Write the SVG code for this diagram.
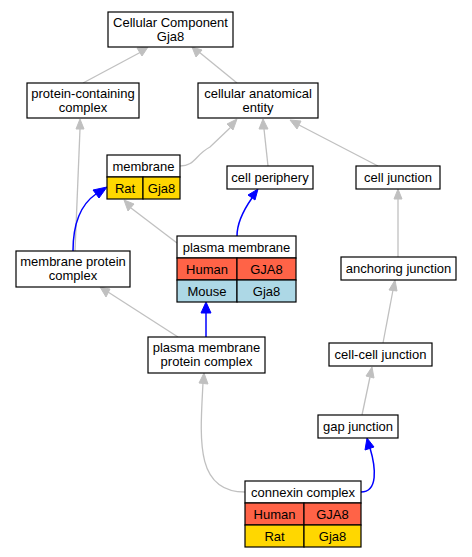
<svg xmlns="http://www.w3.org/2000/svg" width="472" height="557" viewBox="0 0 472 557">
<style>
.box{fill:#fff;stroke:#000;stroke-width:1.2}
.cell{stroke:#000;stroke-width:1.2}
.h{fill:#ff6347}.r{fill:#ffd700}.m{fill:#add8e6}
text{font-family:"Liberation Sans",Arial,sans-serif;font-size:13px;text-anchor:middle;fill:#000}
.g{fill:none;stroke:#c0c0c0;stroke-width:1.3}
.b{fill:none;stroke:#0000ff;stroke-width:1.5}
.ga{fill:#c0c0c0;stroke:#c0c0c0}
.ba{fill:#0000ff;stroke:#0000ff}
</style>
<rect width="472" height="557" fill="#fff"/>
<g id="edges">
<path class="g" d="M83,83 L141,52"/><polygon class="ga" points="148,47 137,48 142,56"/>
<path class="g" d="M237,83 L199,52"/><polygon class="ga" points="192,47 196,57 202,50"/>
<path class="g" d="M180,166 C195,166 195,155 210,147 L231,127"/><polygon class="ga" points="237,119 227,124 233,130"/>
<path class="g" d="M268,166 L264,129"/><polygon class="ga" points="263,119 259,129 268,129"/>
<path class="g" d="M378,166 L299,125"/><polygon class="ga" points="290,120 297,129 301,121"/>
<path class="g" d="M75,251 L80,129"/><polygon class="ga" points="80,119 76,129 84,129"/>
<path class="b" d="M73,251 C73,225 80,205 96,194"/><polygon class="ba" points="107,187 93,190 99,198"/>
<path class="g" d="M177,243 L131,208"/><polygon class="ga" points="124,200 128,211 134,204"/>
<path class="b" d="M237,236 C237,222 245,208 252,198"/><polygon class="ba" points="258,189 248,195 255,200"/>
<path class="g" d="M178,337 L108,292"/><polygon class="ga" points="100,287 106,297 110,289"/>
<path class="b" d="M206,337 L206,312"/><polygon class="ba" points="206,302 201,313 211,313"/>
<path class="g" d="M398,257 L398,199"/><polygon class="ga" points="398,189 394,199 402,199"/>
<path class="g" d="M383,343 L393,290"/><polygon class="ga" points="395,280 389,290 397,291"/>
<path class="g" d="M362,415 L370,377"/><polygon class="ga" points="372,367 366,376 374,378"/>
<path class="g" d="M245,492 C195,492 200,440 203,383"/><polygon class="ga" points="204,373 199,383 208,384"/>
<path class="b" d="M361,492 C378,492 376,468 370,448"/><polygon class="ba" points="367,438 365,450 374,447"/>
</g>
<g id="cc">
<rect class="box" x="108" y="12" width="125" height="35"/>
<text x="170.5" y="27">Cellular Component</text>
<text x="170.5" y="41">Gja8</text>
</g>
<g id="pcc">
<rect class="box" x="27" y="83" width="112" height="35"/>
<text x="83" y="98">protein-containing</text>
<text x="83" y="112">complex</text>
</g>
<g id="cae">
<rect class="box" x="198" y="83" width="120" height="35"/>
<text x="258" y="98">cellular anatomical</text>
<text x="258" y="112">entity</text>
</g>
<g id="membrane">
<rect class="box" x="107" y="155" width="73" height="22"/>
<rect class="cell r" x="107" y="177" width="36" height="22"/>
<rect class="cell r" x="143" y="177" width="37" height="22"/>
<text x="143.5" y="171">membrane</text>
<text x="125" y="193">Rat</text>
<text x="161.5" y="193">Gja8</text>
</g>
<g id="cp">
<rect class="box" x="227" y="166" width="86" height="23"/>
<text x="270" y="182">cell periphery</text>
</g>
<g id="cj">
<rect class="box" x="356" y="166" width="84" height="23"/>
<text x="398" y="182">cell junction</text>
</g>
<g id="mpc">
<rect class="box" x="16" y="251" width="114" height="36"/>
<text x="73" y="266">membrane protein</text>
<text x="73" y="280">complex</text>
</g>
<g id="pm">
<rect class="box" x="177" y="236" width="119" height="22"/>
<rect class="cell h" x="177" y="258" width="60" height="22"/>
<rect class="cell h" x="237" y="258" width="59" height="22"/>
<rect class="cell m" x="177" y="280" width="60" height="22"/>
<rect class="cell m" x="237" y="280" width="59" height="22"/>
<text x="236.5" y="252">plasma membrane</text>
<text x="207" y="274">Human</text>
<text x="266.5" y="274">GJA8</text>
<text x="207" y="296">Mouse</text>
<text x="266.5" y="296">Gja8</text>
</g>
<g id="aj">
<rect class="box" x="341" y="257" width="115" height="23"/>
<text x="398.5" y="273">anchoring junction</text>
</g>
<g id="pmpc">
<rect class="box" x="148" y="337" width="117" height="36"/>
<text x="206.5" y="352">plasma membrane</text>
<text x="206.5" y="366">protein complex</text>
</g>
<g id="ccj">
<rect class="box" x="329" y="343" width="103" height="23"/>
<text x="380.5" y="359">cell-cell junction</text>
</g>
<g id="gj">
<rect class="box" x="318" y="415" width="80" height="23"/>
<text x="358" y="431">gap junction</text>
</g>
<g id="cx">
<rect class="box" x="245" y="481" width="116" height="22"/>
<rect class="cell h" x="245" y="503" width="59" height="22"/>
<rect class="cell h" x="304" y="503" width="57" height="22"/>
<rect class="cell r" x="245" y="525" width="59" height="22"/>
<rect class="cell r" x="304" y="525" width="57" height="22"/>
<text x="303" y="497">connexin complex</text>
<text x="274.5" y="519">Human</text>
<text x="332.5" y="519">GJA8</text>
<text x="274.5" y="541">Rat</text>
<text x="332.5" y="541">Gja8</text>
</g>
</svg>
